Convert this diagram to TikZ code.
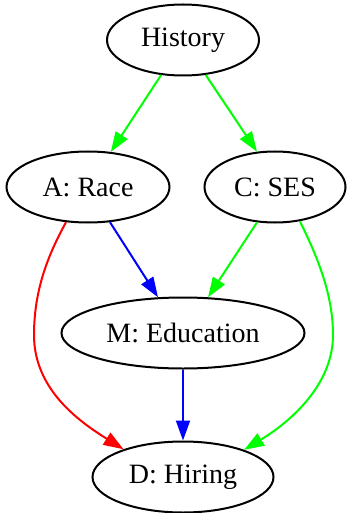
\documentclass[tikz,border=0pt]{standalone}
\usepackage{fontspec}
\setmainfont{Liberation Serif}
\usetikzlibrary{shapes.geometric, arrows.meta}

\definecolor{grgreen}{RGB}{0,255,0}
\definecolor{grblue}{RGB}{0,0,255}
\definecolor{grred}{RGB}{255,0,0}

\begin{document}
\begin{tikzpicture}[x=1pt, y=1pt, every node/.style={ellipse, draw=black, line width=2pt, inner sep=0pt, minimum height=71pt, font=\fontsize{28}{32}\selectfont}, every path/.style={line width=2pt}, edge/.style={-{Triangle[length=20pt, width=14pt]}}]

    \useasboundingbox (0,0) rectangle (349,-513);

    % Nodes
    \node[minimum width=152pt] (hist) at (183,-40) {History};
    \node[minimum width=163pt] (race) at (88,-187) {A: Race};
    \node[minimum width=141pt] (ses) at (275,-187) {C: SES};
    \node[minimum width=243pt] (educ) at (183,-333) {M: Education};
    \node[minimum width=181pt] (hire) at (183,-477) {D: Hiring};

    % Edges
    \draw[edge, grgreen] (hist.-122) -- (race.57);
    \draw[edge, grgreen] (hist.-57) -- (ses.117);
    \draw[edge, grblue] (race.-58) -- (educ.125);
    \draw[edge, grgreen] (ses.-117) -- (educ.55);
    \draw[edge, grblue] (educ) -- (hire);
    \draw[edge, grred] (race.-122) .. controls (48,-255) and (34,-290) .. (34,-335) .. controls (34,-390) and (80,-422) .. (hire.155);
    \draw[edge, grgreen] (ses.-54) .. controls (318,-258) and (333,-295) .. (333,-335) .. controls (333,-385) and (290,-422) .. (hire.24);

\end{tikzpicture}
\end{document}
